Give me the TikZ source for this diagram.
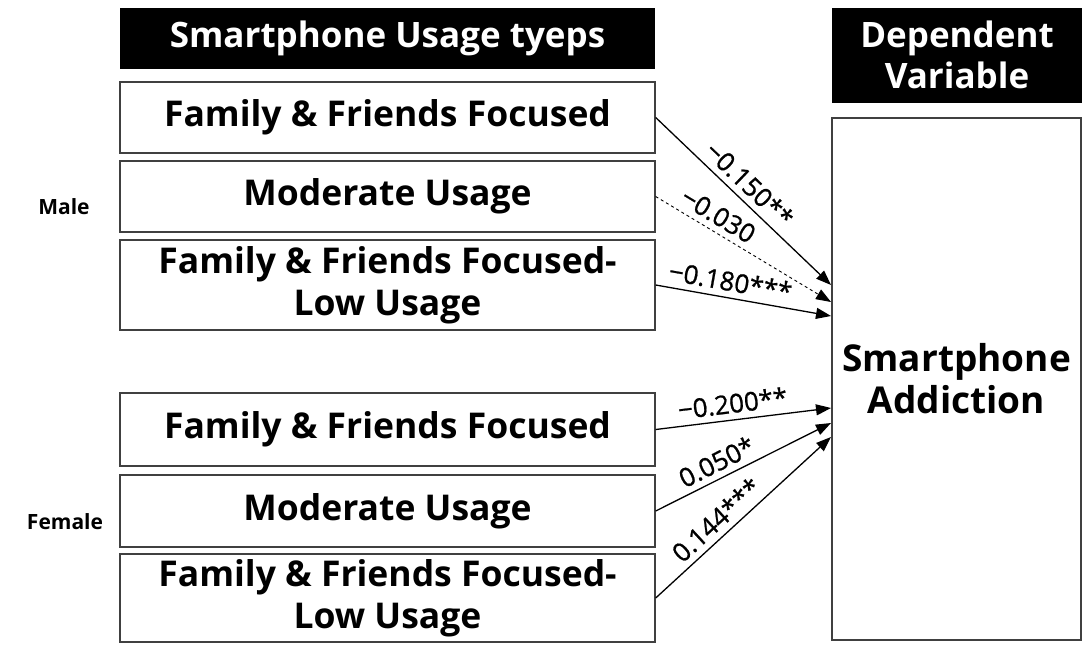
\documentclass[tikz,border=0pt]{standalone}
\usepackage{fontspec}
\setmainfont{Open Sans}
\newfontfamily\coeffont{Open Sans}[FakeBold=0.8]
\usetikzlibrary{arrows.meta,calc}
\begin{document}
\begin{tikzpicture}[x=1pt,y=-1pt,
  box/.style={draw=black!75,line width=1.4pt,fill=white,inner sep=0pt,align=center,
    font=\bfseries\fontsize{35.5}{42}\selectfont},
  header/.style={fill=black,text=white,inner sep=0pt,align=center,
    font=\bfseries\fontsize{35}{41}\selectfont},
  group/.style={font=\bfseries\fontsize{21}{24}\selectfont},
  path/.style={line width=1.3pt,-{Triangle[length=15pt,width=11pt]}},
  coef/.style={font=\coeffont\fontsize{26}{28}\selectfont,sloped,above,inner sep=6pt}]
\useasboundingbox (0,0) rectangle (1083,646);

% column headers
\node[header,minimum width=535pt,minimum height=61pt] (hl) at (387.5,38.5) {Smartphone Usage tyeps};
\node[header,minimum width=250pt,minimum height=95pt] (hr) at (957,55) {Dependent\\Variable};

% dependent variable
\node[box,minimum width=249pt,minimum height=522pt,font=\bfseries\fontsize{37}{42}\selectfont] (dv) at (956.5,379) {Smartphone\\Addiction};

% male usage types
\node[box,minimum width=535pt,minimum height=71pt] (m1) at (387.5,117.5) {Family \& Friends Focused};
\node[box,minimum width=535pt,minimum height=71pt] (m2) at (387.5,196.5) {Moderate Usage};
\node[box,minimum width=535pt,minimum height=90pt] (m3) at (387.5,285) {Family \& Friends Focused-\\Low Usage};

% female usage types
\node[box,minimum width=535pt,minimum height=73pt] (f1) at (387.5,429.5) {Family \& Friends Focused};
\node[box,minimum width=535pt,minimum height=72pt] (f2) at (387.5,511) {Moderate Usage};
\node[box,minimum width=535pt,minimum height=88pt] (f3) at (387.5,598) {Family \& Friends Focused-\\Low Usage};

\node[group] (male) at (64,207) {Male};
\node[group] (female) at (65,522) {Female};

% arrow targets on the dependent box
\coordinate (tm1) at (831,285);
\coordinate (tm2) at (831,302);
\coordinate (tm3) at (831,316);
\coordinate (tf1) at (831,408);
\coordinate (tf2) at (831,423);
\coordinate (tf3) at (831,437);

\draw[path] (m1.east) -- node[coef,pos=0.47] {−0.150**} (tm1);
\draw[path,dashed,line width=0.9pt] (m2.east) -- node[coef,pos=0.31] {−0.030} (tm2);
\draw[path] (m3.east) -- node[coef,pos=0.41] {−0.180***} (tm3);

\draw[path] (f1.east) -- node[coef,pos=0.45] {−0.200**} (tf1);
\draw[path] (f2.east) -- node[coef,pos=0.39] {0.050*} (tf2);
\draw[path] (f3.east) -- node[coef,pos=0.41] {0.144***} (tf3);
\end{tikzpicture}
\end{document}
